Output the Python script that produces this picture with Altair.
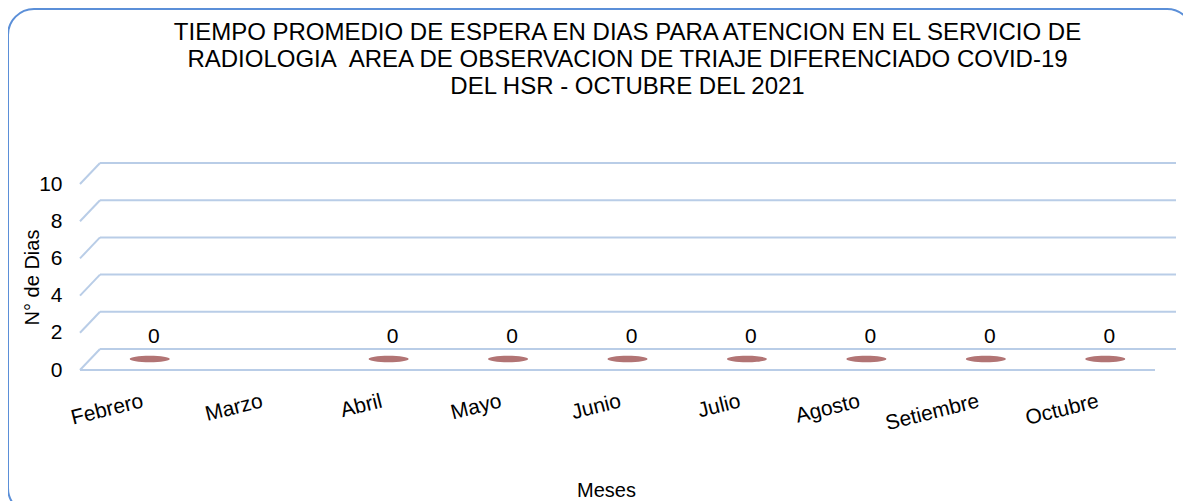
import altair as alt
import pandas as pd

meses = ["Febrero", "Marzo", "Abril", "Mayo", "Junio", "Julio", "Agosto", "Setiembre", "Octubre"]
dias = [0, None, 0, 0, 0, 0, 0, 0, 0]
y_ticks = [0, 2, 4, 6, 8, 10]

titulo = [
    "TIEMPO PROMEDIO DE ESPERA EN DIAS PARA ATENCION EN EL SERVICIO DE",
    "RADIOLOGIA\u00a0 AREA DE OBSERVACION DE TRIAJE DIFERENCIADO COVID-19",
    "DEL HSR - OCTUBRE DEL 2021",
]

FONT = "Liberation Sans"
W, H = 1075, 186
DEPTH_X, DEPTH_Y = 20, 21
GRID = "#b9cde7"

df = pd.DataFrame({"mes": meses, "dias": dias})
grid_df = pd.DataFrame({"v": y_ticks})

xscale = alt.Scale(domain=meses, paddingInner=0, paddingOuter=0)
yscale = alt.Scale(domain=[0, 10], nice=False)

xaxis = alt.Axis(title="Meses", labelAngle=346, labelAlign="right",
                 labelBaseline="top", labelPadding=20, ticks=False,
                 tickSize=0, domain=False, grid=False, labelFontSize=21,
                 titleFontSize=20, titleFontWeight="normal",
                 titleX=526, titleY=120, titleBaseline="middle",
                 titleAlign="center", titleAngle=0,
                 labelColor="#000", titleColor="#000", labelFont=FONT,
                 titleFont=FONT, labelOverlap=False)
yaxis = alt.Axis(title="N° de Dias", values=y_ticks, ticks=False,
                 tickSize=0, domain=False, grid=False, labelPadding=18,
                 labelFontSize=21, titleFontSize=20, labelOverlap=False,
                 titleFontWeight="normal", titleX=-48, titleY=93,
                 titleBaseline="middle", labelColor="#000",
                 titleColor="#000", labelFont=FONT, titleFont=FONT)

base = alt.Chart(df)

back = alt.Chart(grid_df).mark_rule(color=GRID, strokeWidth=2, yOffset=-DEPTH_Y).encode(
    y=alt.Y("v:Q", scale=yscale, axis=yaxis, title="N° de Dias"),
    x=alt.value(DEPTH_X),
    x2=alt.value(W + DEPTH_X + 1),
)

diag = alt.Chart(grid_df).mark_rule(color=GRID, strokeWidth=2, y2Offset=-DEPTH_Y).encode(
    y=alt.Y("v:Q", scale=yscale, axis=yaxis, title="N° de Dias"),
    y2="v:Q",
    x=alt.value(0),
    x2=alt.value(DEPTH_X),
)

floor = alt.Chart(pd.DataFrame({"v": [0]})).mark_rule(color=GRID, strokeWidth=2).encode(
    y=alt.Y("v:Q", scale=yscale, axis=yaxis, title="N° de Dias"),
    x=alt.value(0),
    x2=alt.value(W),
)

ellipse = "M -1 0 A 1 0.16 0 1 0 1 0 A 1 0.16 0 1 0 -1 0 Z"
discs = base.mark_point(shape=ellipse, size=1600, filled=True, color="#b27474",
                        opacity=1, xOffset=10, yOffset=-11).encode(
    x=alt.X("mes:N", scale=xscale, sort=meses, axis=xaxis, title="Meses"),
    y=alt.Y("dias:Q", scale=yscale, axis=yaxis, title="N° de Dias"),
)

labels = base.transform_filter("isValid(datum.dias)").mark_text(
    fontSize=21, font=FONT, color="#000", baseline="middle", dx=14, dy=-33
).encode(
    x=alt.X("mes:N", scale=xscale, sort=meses, axis=xaxis, title="Meses"),
    y=alt.Y("dias:Q", scale=yscale, axis=yaxis, title="N° de Dias"),
    text=alt.Text("dias:Q"),
)

border = alt.Chart(pd.DataFrame({"k": [1]})).mark_rect(
    fill="transparent", stroke="#5b8fd8", strokeWidth=2, cornerRadius=26
).encode(
    x=alt.value(-72), x2=alt.value(1113), y=alt.value(-175), y2=alt.value(330)
)

chart = alt.layer(border, back, diag, floor, discs, labels).properties(
    width=W, height=H,
    background="white",
    title=alt.TitleParams(text=titulo, fontSize=24, font=FONT, fontWeight="normal",
                          color="#000", anchor="middle", offset=-91, dx=10,
                          lineHeight=27),
    autosize=alt.AutoSizeParams(type="none"),
    padding={"left": 72, "top": 176, "right": 28, "bottom": 131},
).configure_view(stroke=None)

chart.save("out.html", embed_options={"renderer": "svg", "actions": False})
